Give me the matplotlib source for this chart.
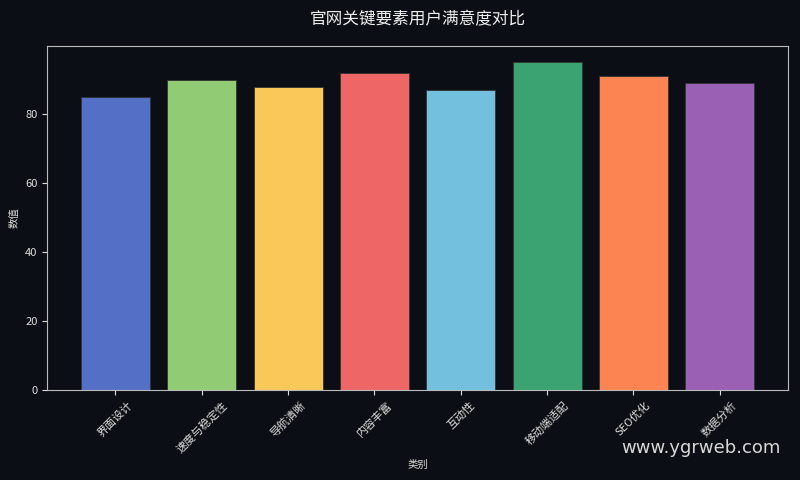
import matplotlib.pyplot as plt

plt.rcParams['font.family'] = ['Noto Sans CJK SC', 'DejaVu Sans']

categories = ['界面设计', '速度与稳定性', '导航清晰', '内容丰富', '互动性', '移动端适配', 'SEO优化', '数据分析']
values = [85, 90, 88, 92, 87, 95, 91, 89]
colors = ['#5470c6', '#91cc75', '#fac858', '#ee6666', '#73c0de', '#3ba272', '#fc8452', '#9a60b4']

bg = '#0b0e14'
fg = '#dddddd'

fig, ax = plt.subplots(figsize=(8, 4.8), dpi=100)
fig.patch.set_facecolor(bg)
ax.set_facecolor(bg)

ax.bar(range(len(categories)), values, color=colors, width=0.8,
       edgecolor='#333333', linewidth=0.6)

ax.set_ylim(0, max(values) * 1.05)
ax.set_xticks(range(len(categories)))
ax.set_xticklabels(categories, rotation=45, fontsize=8, color=fg)
ax.tick_params(axis='y', labelsize=8, colors=fg)
ax.tick_params(axis='x', colors=fg)

ax.set_title('官网关键要素用户满意度对比', fontsize=12, color='#eeeeee', pad=16)
ax.set_xlabel('类别', fontsize=7.5, color=fg)
ax.set_ylabel('数值', fontsize=7.5, color=fg)

for s in ax.spines.values():
    s.set_color('#bbbbbb')
    s.set_linewidth(0.8)

fig.text(0.976, 0.066, 'www.ygrweb.com', fontsize=13, color='#d8d8d8',
         ha='right', va='center', family='DejaVu Sans')

plt.subplots_adjust(left=0.059, right=0.985, top=0.904, bottom=0.1875)
plt.savefig('out.png', facecolor=bg)
